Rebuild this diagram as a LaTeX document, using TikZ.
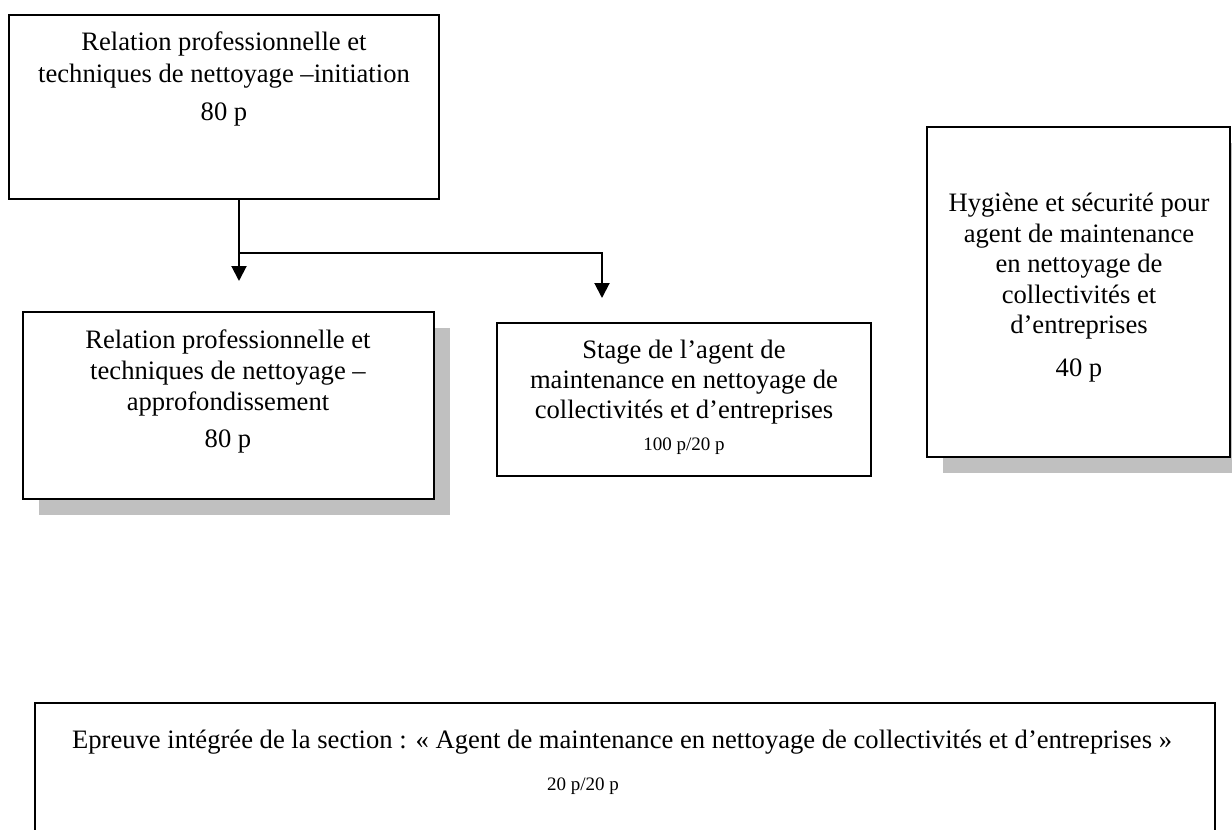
\documentclass[tikz,border=0pt]{standalone}
\usepackage{fontspec}
\setmainfont{Liberation Serif}
\usetikzlibrary{arrows.meta,fit}
\definecolor{shadowgray}{HTML}{C0C0C0}
\tikzset{
  box/.style={draw, line width=1pt, fill=white, inner sep=0pt},
  txt/.style={align=center, inner sep=0pt, font=\fontsize{13.3}{16}\selectfont},
  arr/.style={line width=1pt, -{Triangle[width=7.5pt,length=7.5pt]}}
}
\newcommand{\smallp}{\fontsize{9.5}{11}\selectfont}
\begin{document}
\begin{tikzpicture}[x=0.5pt,y=-0.5pt]
\useasboundingbox (0,0) rectangle (1232,830);
% shadows
\fill[shadowgray] (39,328) rectangle (450,515);
\fill[shadowgray] (943,143) rectangle (1232,473);
% boxes
\node[box, fit={(9,15)(439,199)}] (b1) {};
\node[box, fit={(23,312)(434,499)}] (b2) {};
\node[box, fit={(497,323)(871,476)}] (b3) {};
\node[box, fit={(927,127)(1230,457)}] (b4) {};
\node[box, fit={(35,703)(1215,845)}] (b5) {};
% texts (anchor = baseline of the last line)
\node[txt, anchor=base] (t1) at (224,120) {Relation professionnelle et\\techniques de nettoyage –initiation\\[3pt]80 p};
\node[txt, anchor=base, font=\fontsize{13.3}{15.5}\selectfont] (t2) at (228,447) {Relation professionnelle et\\techniques de nettoyage –\\approfondissement\\[3pt]80 p};
\node[txt, anchor=base, font=\fontsize{13.3}{15}\selectfont] (t3) at (684,450) {Stage de l’agent de\\maintenance en nettoyage de\\collectivités et d’entreprises\\[1pt]{\smallp 100 p/20 p}};
\node[txt, anchor=base, font=\fontsize{13.3}{15.25}\selectfont] (t4) at (1079,376) {Hygiène et sécurité pour\\agent de maintenance\\en nettoyage de\\collectivités et\\d’entreprises\\[6pt]40 p};
\node[txt, anchor=base] (t5) at (622,748) {Epreuve intégrée de la section : « Agent de maintenance en nettoyage de collectivités et d’entreprises »};
\node[txt, anchor=base, font=\smallp] (t6) at (583,790) {20 p/20 p};
% connectors
\coordinate (a1) at (239,281);
\coordinate (j) at (239,253);
\coordinate (a2) at (602,298);
\draw[arr] (b1.south -| a1) -- (a1);
\draw[arr] (j) -| (a2);
\end{tikzpicture}
\end{document}
